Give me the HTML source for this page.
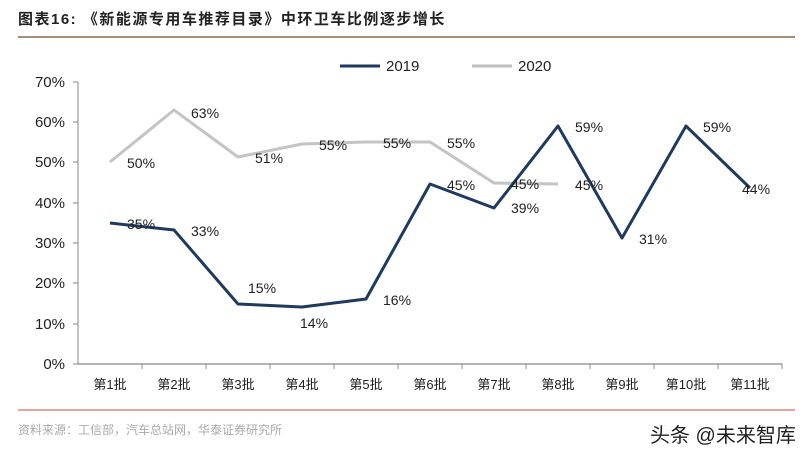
<!DOCTYPE html>
<html><head><meta charset="utf-8"><style>
body{margin:0;background:#fff;width:810px;height:453px;overflow:hidden;font-family:"Liberation Sans","Noto Sans CJK SC",sans-serif}
</style></head><body>
<svg width="810" height="453" xmlns="http://www.w3.org/2000/svg" font-family="Liberation Sans, Noto Sans CJK SC, sans-serif">
<text x="18" y="24" font-size="15" font-weight="bold" fill="#222" letter-spacing="1.5">图表16:   《新能源专用车推荐目录》中环卫车比例逐步增长</text>
<line x1="18" y1="37" x2="795" y2="37" stroke="#8a6a50" stroke-width="1.5"/>
<g font-size="15" fill="#222" text-anchor="end">
<text x="65" y="369">0%</text><text x="65" y="329">10%</text><text x="65" y="288">20%</text><text x="65" y="248">30%</text><text x="65" y="208">40%</text><text x="65" y="167">50%</text><text x="65" y="127">60%</text><text x="65" y="87">70%</text>
</g>
<line x1="78" y1="364" x2="782" y2="364" stroke="#888" stroke-width="1.2"/>
<line x1="78" y1="82" x2="78" y2="364" stroke="#888" stroke-width="1"/>
<g stroke="#888">
<line x1="73" y1="364" x2="78" y2="364"/><line x1="73" y1="324" x2="78" y2="324"/><line x1="73" y1="283" x2="78" y2="283"/><line x1="73" y1="243" x2="78" y2="243"/><line x1="73" y1="203" x2="78" y2="203"/><line x1="73" y1="162" x2="78" y2="162"/><line x1="73" y1="122" x2="78" y2="122"/><line x1="73" y1="82" x2="78" y2="82"/>
<line x1="142" y1="364" x2="142" y2="369"/><line x1="206" y1="364" x2="206" y2="369"/><line x1="270" y1="364" x2="270" y2="369"/><line x1="334" y1="364" x2="334" y2="369"/><line x1="398" y1="364" x2="398" y2="369"/><line x1="462" y1="364" x2="462" y2="369"/><line x1="526" y1="364" x2="526" y2="369"/><line x1="590" y1="364" x2="590" y2="369"/><line x1="654" y1="364" x2="654" y2="369"/><line x1="718" y1="364" x2="718" y2="369"/><line x1="782" y1="364" x2="782" y2="369"/>
</g>
<g font-size="13" fill="#222" text-anchor="middle">
<text x="110" y="389">第1批</text><text x="174" y="389">第2批</text><text x="238" y="389">第3批</text><text x="302" y="389">第4批</text><text x="366" y="389">第5批</text><text x="430" y="389">第6批</text><text x="494" y="389">第7批</text><text x="558" y="389">第8批</text><text x="622" y="389">第9批</text><text x="686" y="389">第10批</text><text x="750" y="389">第11批</text>
</g>
<line x1="340" y1="66" x2="380" y2="66" stroke="#1f3a5f" stroke-width="3"/>
<text x="386" y="71" font-size="15" fill="#222">2019</text>
<line x1="472" y1="66" x2="512" y2="66" stroke="#bfbfbf" stroke-width="3"/>
<text x="518" y="71" font-size="15" fill="#222">2020</text>
<polyline fill="none" stroke="#c4c4c4" stroke-width="3" points="110,162 174,110 238,157 302,144 366,142 430,142 494,183 558,184"/>
<polyline fill="none" stroke="#1f3a5f" stroke-width="3" stroke-linejoin="round" points="110,223 174,230 238,304 302,307 366,299 430,184 494,208 558,126 622,238 686,126 750,188"/>
<g font-size="14" fill="#222">
<text x="127" y="168">50%</text><text x="191" y="118">63%</text><text x="255" y="163">51%</text><text x="319" y="150">55%</text><text x="383" y="148">55%</text><text x="447" y="148">55%</text><text x="511" y="189">45%</text><text x="575" y="190">45%</text>
<text x="127" y="229">35%</text><text x="191" y="236">33%</text><text x="248" y="293">15%</text><text x="300" y="328">14%</text><text x="383" y="305">16%</text><text x="447" y="190">45%</text><text x="511" y="213">39%</text><text x="575" y="132">59%</text><text x="639" y="244">31%</text><text x="703" y="132">59%</text><text x="742" y="194">44%</text>
</g>
<line x1="18" y1="410" x2="795" y2="410" stroke="#e08a70" stroke-width="1.5"/>
<text x="18" y="434" font-size="12" fill="#aaa">资料来源：工信部，汽车总站网，华泰证券研究所</text>
<text x="650" y="442" font-size="20" fill="#222">头条 @未来智库</text>
</svg>
</body></html>
